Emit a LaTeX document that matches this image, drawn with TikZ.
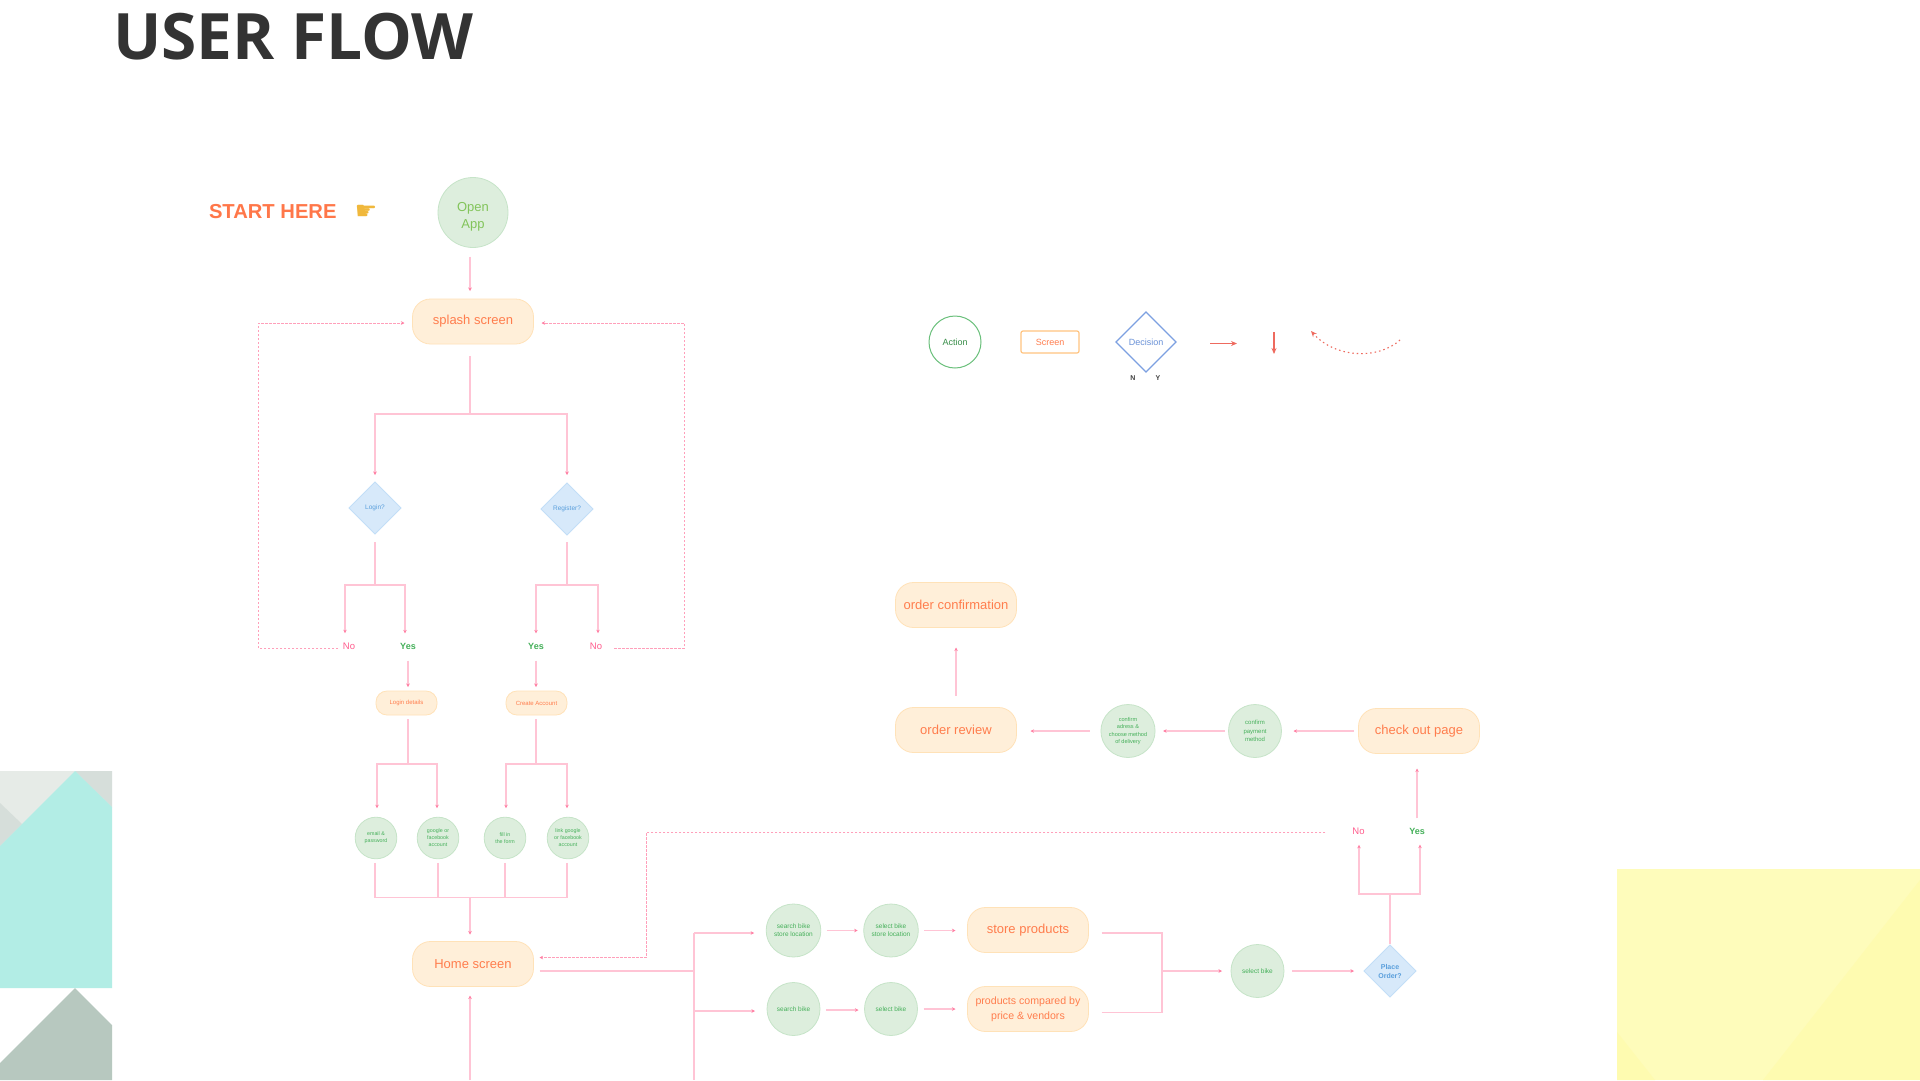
\documentclass[tikz,border=0pt]{standalone}
\usepackage{fontspec}
\setmainfont{Liberation Sans}
\newfontfamily\titlefont{Open Sans}
\newfontfamily\handfont{DejaVu Sans}
\usetikzlibrary{arrows.meta,shapes.geometric}
\definecolor{linkpink}{HTML}{FFC4D5}
\definecolor{tippink}{HTML}{FF7FA3}
\definecolor{actfill}{HTML}{DDEEDD}
\definecolor{actline}{HTML}{C6E4C8}
\definecolor{acttext}{HTML}{45B05A}
\definecolor{scrfill}{HTML}{FFEFD9}
\definecolor{scrline}{HTML}{FFE2B8}
\definecolor{scrtext}{HTML}{FF7D4D}
\definecolor{decfill}{HTML}{D7E9FA}
\definecolor{decline}{HTML}{C2DEF7}
\definecolor{dectext}{HTML}{5A9FDC}
\definecolor{notext}{HTML}{FF5C8D}
\definecolor{redline}{HTML}{EE6A5E}
\tikzset{
  base/.style={inner sep=0pt,outer sep=0pt,align=center},
  act/.style={base,ellipse,fill=actfill,draw=actline,line width=.8pt,text=acttext,minimum width=#1*2pt,minimum height=#1*2pt,font=\fontsize{6.5}{8}\selectfont},
  actsmall/.style={act=20.8,font=\fontsize{5.3}{7}\selectfont},
  scr/.style={base,rectangle,rounded corners=18pt,fill=scrfill,draw=scrline,line width=.8pt,text=scrtext,minimum width=121pt,minimum height=45pt,font=\fontsize{13}{16}\selectfont},
  scrsmall/.style={base,rectangle,rounded corners=11pt,fill=scrfill,draw=scrline,line width=.8pt,text=scrtext,minimum width=61pt,minimum height=24pt,font=\fontsize{6}{7}\selectfont},
  dec/.style={base,diamond,fill=decfill,draw=decline,line width=.8pt,text=dectext,minimum width=52pt,minimum height=52pt,font=\fontsize{6.5}{8}\selectfont},
  yes/.style={base,text=acttext,font=\bfseries\fontsize{9}{11}\selectfont},
  nope/.style={base,text=notext,font=\fontsize{9.5}{11}\selectfont},
  link/.style={draw=linkpink,line width=1.1pt},
  arr/.style={link,-{Stealth[length=3.5pt,width=3.5pt,color=tippink]}},
  dlink/.style={draw=tippink!75,line width=.9pt,dash pattern=on 2.5pt off 1.5pt},
  darr/.style={dlink,-{Stealth[length=3.5pt,width=3.5pt,color=tippink]}},
  redarr/.style={draw=redline,line width=1.1pt,-{Stealth[length=6pt,width=5pt]}}
}
\begin{document}
\begin{tikzpicture}[x=1pt,y=-1pt]
\useasboundingbox (0,0) rectangle (1920,1080);
% decorative shapes
\fill[fill=white] (0,0) rectangle (1920,1080);
\fill[fill={rgb,255:red,230;green,235;blue,231}] (0,771) rectangle (112,860);
\fill[fill={rgb,255:red,214;green,222;blue,218}] (75,771) -- (112,771) -- (112,807) -- cycle;
\fill[fill={rgb,255:red,214;green,222;blue,218}] (0,803) -- (22,824) -- (0,846) -- cycle;
\fill[fill={rgb,255:red,178;green,237;blue,229}] (0,846) -- (75,771) -- (112,807) -- (112,988) -- (0,988) -- cycle;
\fill[fill={rgb,255:red,183;green,200;blue,191}] (0,1063) -- (75,988) -- (112,1025) -- (112,1080) -- (0,1080) -- cycle;
\fill[fill={rgb,255:red,254;green,252;blue,187}] (1617,869) rectangle (1920,1080);
\fill[fill={rgb,255:red,254;green,251;blue,176}] (1920,880) -- (1920,1080) -- (1763,1080) -- cycle;
\fill[fill={rgb,255:red,254;green,251;blue,176}] (1617,1032) -- (1655,1080) -- (1617,1080) -- cycle;
% title
\node[base,anchor=west,text={rgb,255:red,51;green,51;blue,51},font=\titlefont\bfseries\fontsize{64}{70}\selectfont] (title) at (113,37) {USER FLOW};
\node[base,anchor=west,text=scrtext!95!red,font=\bfseries\fontsize{20.2}{24}\selectfont] (start) at (209,212) {START HERE};
\node[base,text={rgb,255:red,240;green,184;blue,60},font=\handfont\fontsize{25}{25}\selectfont] (hand) at (366,212) {☛};
% nodes
\node[act=35,text={rgb,255:red,130;green,196;blue,90},font=\fontsize{13}{17}\selectfont] (open) at (473,212.5) {\rule{0pt}{17pt}Open\\App};
\node[scr] (splash) at (473,321.5) {splash screen};
\node[dec] (login) at (375,508) {Login?};
\node[dec] (reg) at (567,509) {Register?};
\node[nope] (no1) at (349,646.5) {No};
\node[yes] (yes1) at (408,646.5) {Yes};
\node[yes] (yes2) at (536,646.5) {Yes};
\node[nope] (no2) at (596,646.5) {No};
\node[scrsmall] (ldet) at (406.5,703) {Login details};
\node[scrsmall] (cacc) at (536.5,703) {Create Account};
\node[actsmall] (c1) at (376,838) {email \&\\password};
\node[actsmall] (c2) at (438,838) {google or\\facebook\\account};
\node[actsmall] (c3) at (505,838) {fill in\\the form};
\node[actsmall] (c4) at (568,838) {link google\\or facebook\\account};
\node[scr] (home) at (473,964) {Home screen};
\node[act=26.5] (s1) at (793.5,930.5) {search bike\\store location};
\node[act=26.5] (s2) at (891,930.5) {select bike\\store location};
\node[scr] (store) at (1028,930) {store products};
\node[act=26.5] (s3) at (793.5,1009) {search bike};
\node[act=26.5] (s4) at (891,1009) {select bike};
\node[scr,font=\fontsize{10.6}{15}\selectfont] (prod) at (1028,1009) {products compared by\\price \& vendors};
\node[act=26.5] (sel) at (1257.5,971) {select bike};
\node[dec,font=\bfseries\fontsize{7}{9}\selectfont] (place) at (1390,971) {Place\\Order?};
\node[nope] (no3) at (1358.5,831.5) {No};
\node[yes] (yes3) at (1417,831.5) {Yes};
\node[scr] (check) at (1419,731) {check out page};
\node[act=26.5,font=\fontsize{6}{8.5}\selectfont] (pay) at (1255,731) {confirm\\payment\\method};
\node[act=26.5,font=\fontsize{5.6}{7.4}\selectfont] (addr) at (1128,731) {confirm\\adress \&\\choose method\\of delivery};
\node[scr] (review) at (956,730) {order review};
\node[scr] (conf) at (956,605) {order confirmation};
% legend
\node[base,circle,draw=acttext!80,line width=1pt,minimum width=52pt,text=acttext!80!black,font=\fontsize{9}{11}\selectfont] (lact) at (955,342) {Action};
\node[base,rectangle,rounded corners=2pt,draw=scrline!70!orange,line width=1.2pt,minimum width=58pt,minimum height=22pt,text=scrtext,font=\fontsize{9}{11}\selectfont] (lscr) at (1050,342) {Screen};
\node[base,diamond,draw={rgb,255:red,125;green,160;blue,225},line width=1.1pt,minimum width=60pt,minimum height=60pt,text={rgb,255:red,105;green,145;blue,215},font=\fontsize{9}{11}\selectfont] (ldec) at (1146,342) {Decision};
\node[base,font=\bfseries\fontsize{7}{8}\selectfont,text=black!75] (ln) at (1133,378) {N};
\node[base,font=\bfseries\fontsize{7}{8}\selectfont,text=black!75] (ly) at (1158,378) {Y};
\coordinate (ra1) at (1210,343.5); \coordinate (ra2) at (1237,343.5);
\coordinate (rb1) at (1274,332); \coordinate (rb2) at (1274,354);
\coordinate (rc1) at (1400,340); \coordinate (rc2) at (1311,331);
\draw[redarr] (ra1) -- (ra2);
\draw[redarr] (rb1) -- (rb2);
\draw[draw=redline,line width=1.1pt,dash pattern=on 1.5pt off 3pt,-{Stealth[length=6pt,width=5pt]}] (rc1) .. controls (1378,360) and (1335,358) .. (rc2);
% named junctions
\coordinate (jsp) at (470,414);
\coordinate (jlo) at (375,585);
\coordinate (jre) at (567,585);
\coordinate (jld) at (408,764);
\coordinate (jca) at (536,764);
\coordinate (jbo) at (470,897.5);
\coordinate (jho) at (694,971);
\coordinate (jtop) at (694,933);
\coordinate (jrow) at (694,1011);
\coordinate (jend) at (694,1080);
\coordinate (jm) at (1162,971);
\coordinate (jpl) at (1390,894);
\coordinate (dsl) at (258,323);
\coordinate (dsb) at (258,648);
\coordinate (dsr) at (684.5,323);
\coordinate (dsc) at (684.5,648);
\coordinate (dhc) at (646.5,957.5);
\coordinate (dht) at (646.5,832);
% connectors
\draw[arr] ([shift={(-3,9)}]open.south) -- ([shift={(-3,-8)}]splash.north);
\draw[link] ([shift={(-3,12)}]splash.south) -- (jsp);
\draw[arr] (jsp) -| ([shift={(0,-7)}]login.north);
\draw[arr] (jsp) -| ([shift={(0,-8)}]reg.north);
\draw[link] ([shift={(0,8)}]login.south) -- (jlo);
\draw[link] ([shift={(0,7)}]reg.south) -- (jre);
\draw[arr] (jlo) -| ([shift={(-4,-10)}]no1.north);
\draw[arr] (jlo) -| ([shift={(-3,-10)}]yes1.north);
\draw[arr] (jre) -| ([shift={(0,-10)}]yes2.north);
\draw[arr] (jre) -| ([shift={(2,-10)}]no2.north);
\draw[arr] ([shift={(0,11)}]yes1.south) -- ([shift={(0,-4)}]yes1.south |- ldet.north);
\draw[arr] ([shift={(0,11)}]yes2.south) -- ([shift={(0,-4)}]yes2.south |- cacc.north);
\draw[link] ([shift={(1.5,4)}]ldet.south) -- (jld);
\draw[link,line width=1.4pt] ([shift={(-.5,4)}]cacc.south) -- (jca);
\draw[arr] (jld) -| ([shift={(1,-9)}]c1.north);
\draw[arr] (jld) -| ([shift={(-1,-9)}]c2.north);
\draw[arr] (jca) -| ([shift={(1,-9)}]c3.north);
\draw[arr] (jca) -| ([shift={(-1,-9)}]c4.north);
\draw[link] ([shift={(-1,4)}]c1.south) |- (jbo);
\draw[link] (c2.south) ++(0,4) |- (jbo);
\draw[link,line width=1.4pt] (c3.south) ++(0,4) |- (jbo);
\draw[link] ([shift={(-1,4)}]c4.south) |- (jbo);
\draw[arr] (jbo) -- ([shift={(-3,-7)}]home.north);
\draw[arr] (jend -| home.south) ++(-3,0) -- ([shift={(-3,9)}]home.south);
\draw[darr] (dsb) ++(80,0) -- (dsb) -- (dsl) -- ([xshift=-8]splash.west |- dsl);
\draw[darr] ([shift={(12,1.5)}]no2.east) -- (dsc) -- (dsr) -- ([xshift=8]splash.east |- dsr);
\draw[darr] ([shift={(-27,.5)}]no3.west) -- (dht) -- (dhc) -- ([xshift=6]home.east |- dhc);
\draw[link] ([shift={(6,7)}]home.east) -- (jho);
\draw[link] (jtop) -- (jend);
\draw[arr] (jtop) -- ([shift={(-12,2.5)}]s1.west);
\draw[arr] (jrow) -- ([shift={(-12,2)}]s3.west);
\draw[arr] ([shift={(6,0)}]s1.east) -- ([shift={(-6,0)}]s2.west);
\draw[arr] ([shift={(6,0)}]s2.east) -- ([shift={(-12,.5)}]store.west);
\draw[arr] ([shift={(6,1)}]s3.east) -- ([shift={(-6,1)}]s4.west);
\draw[arr] ([shift={(6,0)}]s4.east) -- ([shift={(-12,0)}]prod.west);
\draw[link] ([shift={(13,3)}]store.east) -| (jm);
\draw[link] ([shift={(13,3.5)}]prod.east) -| (jm);
\draw[arr] (jm) -- ([xshift=-9]sel.west);
\draw[arr] ([xshift=8]sel.east) -- ([xshift=-10]place.west);
\draw[link] ([shift={(0,-1)}]place.north) -- (jpl);
\draw[arr] (jpl) -| ([shift={(.5,10)}]no3.south);
\draw[arr] (jpl) -| ([shift={(3,10)}]yes3.south);
\draw[arr] ([shift={(0,-10)}]yes3.north) -- ([shift={(0,15)}]yes3.north |- check.south);
\draw[arr] ([xshift=-5]check.west) -- ([xshift=12]pay.east);
\draw[arr] ([xshift=-4]pay.west) -- ([xshift=8]addr.east);
\draw[arr] ([xshift=-11]addr.west) -- ([shift={(14,1)}]review.east);
\draw[arr] ([shift={(0,-12)}]review.north) -- ([shift={(0,20)}]conf.south);
\end{tikzpicture}
\end{document}
